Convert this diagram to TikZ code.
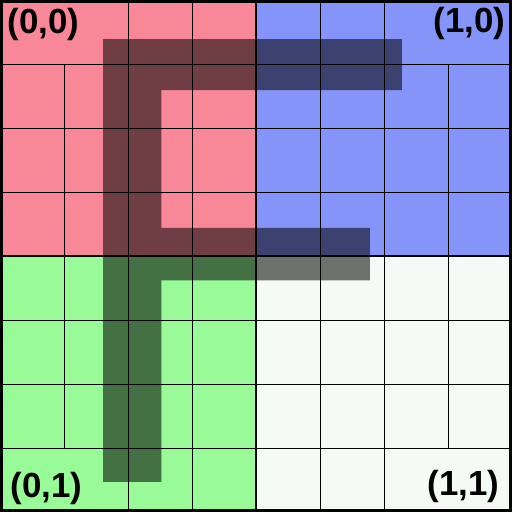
\documentclass[tikz,border=0pt]{standalone}
\usepackage{fontspec}
\setmainfont{Liberation Sans}
\definecolor{rose}{RGB}{248,136,152}
\definecolor{bleu}{RGB}{132,148,248}
\definecolor{vert}{RGB}{152,251,152}
\definecolor{blanc}{RGB}{246,250,246}
\tikzset{etiquette/.style={font=\bfseries\fontsize{15.5}{16}\selectfont, inner sep=0pt}}
\begin{document}
\begin{tikzpicture}[x=1cm, y=-1cm]
\useasboundingbox (0,0) rectangle (8,8);
% Quadrants
\fill[rose] (0,0) rectangle (4,4);
\fill[bleu] (4,0) rectangle (8,4);
\fill[vert] (0,4) rectangle (4,8);
\fill[blanc] (4,4) rectangle (8,8);
% Forme en F
\fill[black, opacity=0.55] (1.61,0.61) -- (6.28,0.61) -- (6.28,1.41) -- (2.52,1.41) -- (2.52,3.56) -- (5.78,3.56) -- (5.78,4.38) -- (2.52,4.38) -- (2.52,7.53) -- (1.61,7.53) -- cycle;
% Grille
\foreach \y in {1,2,3,5,6,7} \draw (0,\y) -- (8,\y);
\foreach \x in {2,3,5,6} \draw (\x,0) -- (\x,8);
\draw (1,1) -- (1,7);
\draw (7,1) -- (7,7);
\draw[line width=1.3pt] (4,0) -- (4,8) (0,4) -- (8,4);
\draw[line width=2.4pt] (0,0) rectangle (8,8);
% Coins
\node[etiquette, anchor=north west] (c00) at (0.11,0.12) {(0,0)};
\node[etiquette, anchor=north east] (c10) at (7.9,0.11) {(1,0)};
\node[etiquette, anchor=south west] (c01) at (0.16,7.89) {(0,1)};
\node[etiquette, anchor=south east] (c11) at (7.81,7.86) {(1,1)};
\end{tikzpicture}
\end{document}
